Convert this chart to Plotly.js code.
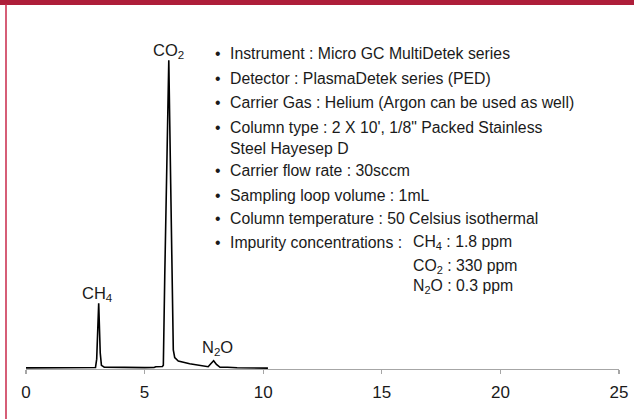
<!DOCTYPE html>
<html>
<head>
<meta charset="utf-8">
<script src="https://cdn.plot.ly/plotly-3.0.1.min.js"></script>
<style>
html,body{margin:0;padding:0;background:#fff;}
#chart{width:634px;height:419px;}
</style>
</head>
<body>
<div id="chart"></div>
<script>
// Retention time (min) and detector signal (arbitrary units, CO2 peak = 100)
const retentionTime = [0, 2.85, 2.93, 2.98, 3.065, 3.13, 3.18, 3.3, 4.0, 5.0, 5.4, 5.47, 5.75, 5.79, 5.85, 6.02, 6.10, 6.17, 6.21, 6.27, 6.42, 6.9, 7.34, 7.55, 7.68, 7.8, 7.91, 8.03, 8.18, 8.5, 8.9, 10.2];
const signal        = [0.15, 0.15, 0.3, 3, 21.1, 5, 1.0, 0.4, 0.25, 0.25, 0.3, 0.55, 0.6, 1.0, 30, 100, 60, 29, 6, 3.5, 2.4, 1.5, 1.07, 0.8, 0.55, 1.6, 2.5, 1.3, 0.35, 0.35, 0.2, 0.1];

const xTickVals = [0, 5, 10, 15, 20, 25];
const xTickText = ['0', '5', '10', '15', '20', '25'];

const peakNames = ['CH<sub>4</sub>', 'CO<sub>2</sub>', 'N<sub>2</sub>O'];
const peakLabelX = [3.01, 6.02, 8.08];
const peakLabelY = [24.3, 103.2, 6.7];

const infoLines = [
  'Instrument : Micro GC MultiDetek series',
  'Detector : PlasmaDetek series (PED)',
  'Carrier Gas : Helium (Argon can be used as well)',
  'Column type : 2 X 10\', 1/8" Packed Stainless',
  'Steel Hayesep D',
  'Carrier flow rate : 30sccm',
  'Sampling loop volume : 1mL',
  'Column temperature : 50 Celsius isothermal',
  'Impurity concentrations :'
];
const infoHasBullet = [true, true, true, true, false, true, true, true, true];
const infoLineY = [53.3, 78.3, 102.7, 127.3, 148.3, 170, 195, 218.3, 242.7];

const impurityLines = ['CH<sub>4</sub> : 1.8 ppm', 'CO<sub>2</sub> : 330 ppm', 'N<sub>2</sub>O : 0.3 ppm'];
const impurityLineY = [242.7, 266, 286.7];

const L = 26, R = 15, T = 20, B = 50, W = 634, H = 419;
const pw = W - L - R, ph = H - T - B;
const px2x = p => (p - L) / pw;
const py2y = p => (H - B - p) / ph;

const infoFont = {family: '"Liberation Sans", Arial, sans-serif', size: 15.8, color: '#1a1a1a'};
const labelFont = {family: '"Liberation Sans", Arial, sans-serif', size: 16.5, color: '#1a1a1a'};

const annotations = [];
peakNames.forEach((t, i) => annotations.push({
  x: peakLabelX[i], y: peakLabelY[i], xref: 'x', yref: 'y', text: t,
  showarrow: false, xanchor: 'center', yanchor: 'middle', font: labelFont
}));
infoLines.forEach((t, i) => {
  annotations.push({
    x: px2x(228), y: py2y(infoLineY[i]), xref: 'paper', yref: 'paper', text: t,
    showarrow: false, xanchor: 'left', yanchor: 'middle', font: infoFont
  });
  if (infoHasBullet[i]) annotations.push({
    x: px2x(218), y: py2y(infoLineY[i]), xref: 'paper', yref: 'paper', text: '•',
    showarrow: false, xanchor: 'center', yanchor: 'middle', font: infoFont
  });
});
impurityLines.forEach((t, i) => annotations.push({
  x: px2x(411), y: py2y(impurityLineY[i]), xref: 'paper', yref: 'paper', text: t,
  showarrow: false, xanchor: 'left', yanchor: 'middle', font: infoFont
}));

const red = '#AE1E3A';
const shapes = [
  {type: 'rect', xref: 'paper', yref: 'paper', x0: px2x(0), x1: px2x(634), y0: py2y(5), y1: py2y(0),
   fillcolor: red, line: {width: 0}, layer: 'above'},
  {type: 'line', xref: 'paper', yref: 'paper', x0: px2x(6), x1: px2x(6), y0: py2y(419), y1: py2y(4),
   line: {color: '#C8284A', width: 1.5}, layer: 'above'}
];

const data = [{
  x: retentionTime, y: signal, type: 'scatter', mode: 'lines',
  line: {color: '#000000', width: 1.6}, hoverinfo: 'skip'
}];

const layout = {
  width: W, height: H,
  margin: {l: L, r: R, t: T, b: B, pad: 0},
  paper_bgcolor: '#ffffff', plot_bgcolor: '#ffffff',
  showlegend: false,
  xaxis: {
    range: [0, 25], tickvals: xTickVals, ticktext: xTickText,
    showgrid: false, zeroline: false, showline: true, linecolor: '#A6A6A6', linewidth: 1.2,
    ticks: 'outside', ticklen: 4, tickcolor: '#A6A6A6', tickwidth: 1.2, ticklabelstandoff: 3,
    tickfont: {family: '"Liberation Sans", Arial, sans-serif', size: 17, color: '#1a1a1a'},
    fixedrange: true
  },
  yaxis: {
    range: [-0.2, 113.1], visible: false, showgrid: false, zeroline: false, fixedrange: true
  },
  annotations: annotations,
  shapes: shapes
};

Plotly.newPlot('chart', data, layout, {displayModeBar: false, staticPlot: true});
</script>
</body>
</html>
